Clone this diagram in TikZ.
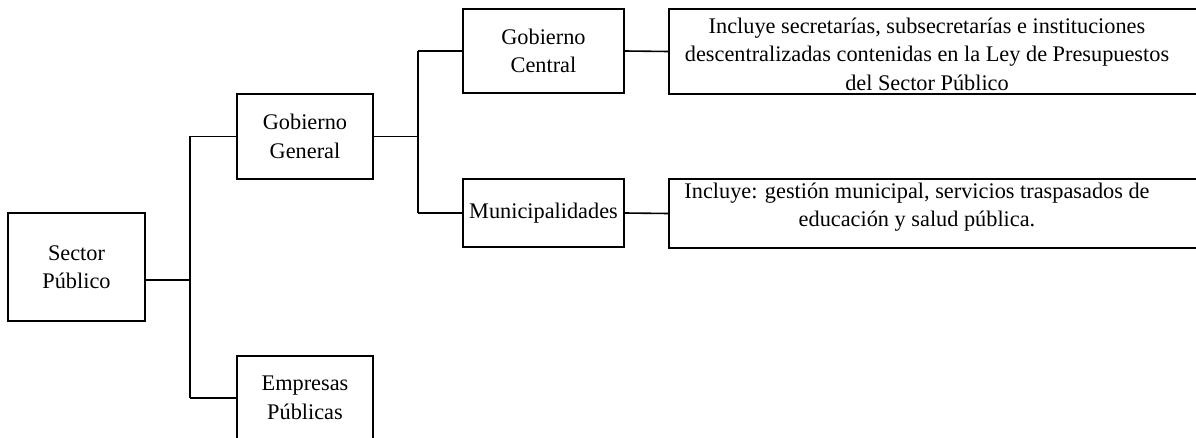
\documentclass[tikz,border=0pt]{standalone}
\usepackage{fontspec}
\setmainfont{Liberation Serif}
\begin{document}
\begin{tikzpicture}[x=1pt,y=-1pt,
  box/.style={draw=black,line width=1.6pt,inner sep=0pt,align=center,font=\fontsize{22.3}{28.5}\selectfont},
  lbl/.style={inner sep=0pt,align=center,font=\fontsize{22.3}{28.5}\selectfont},
  conn/.style={draw=black,line width=1.6pt}]
\useasboundingbox (0,0) rectangle (1196,438);
\clip (0,0) rectangle (1196,438);
\node[box,minimum width=137pt,minimum height=108pt] (sp) at (76.5,267) {Sector\\Público};
\node[box,minimum width=136pt,minimum height=85pt] (gg) at (305,136.5) {Gobierno\\General};
\node[box,minimum width=136pt,minimum height=84pt] (ep) at (305,398) {Empresas\\Públicas};
\node[box,minimum width=161pt,minimum height=84pt] (gc) at (543.5,51) {Gobierno\\Central};
\node[box,minimum width=161pt,minimum height=68pt] (mu) at (543.5,213) {Municipalidades};
\node[box,minimum width=540pt,minimum height=85pt] (d1) at (939,51.5) {};
\node[box,minimum width=540pt,minimum height=69pt] (d2) at (939,213.5) {};
\node[lbl] (d1t) at (927,54) {Incluye secretarías, subsecretarías e instituciones\\descentralizadas contenidas en la Ley de Presupuestos\\del Sector Público};
\node[lbl] (d2t) at (917,207) {Incluye: gestión municipal, servicios traspasados de\\educación y salud pública.};
\coordinate (t1) at (190,136.5);
\coordinate (tm) at (190,280);
\coordinate (t2) at (190,398);
\coordinate (b1) at (418,51);
\coordinate (bm) at (418,136.5);
\coordinate (b2) at (418,213);
\path[conn] (sp.east |- tm) -- (tm);
\path[conn] (t1) -- (t2);
\path[conn] (t1) -- (gg.west);
\path[conn] (t2) -- (ep.west);
\path[conn] (gg.east) -- (bm);
\path[conn] (b1) -- (b2);
\path[conn] (b1) -- (gc.west);
\path[conn] (b2) -- (mu.west);
\path[conn] (gc.east) -- (d1.west);
\path[conn] (mu.east) -- (d2.west);
\end{tikzpicture}
\end{document}
